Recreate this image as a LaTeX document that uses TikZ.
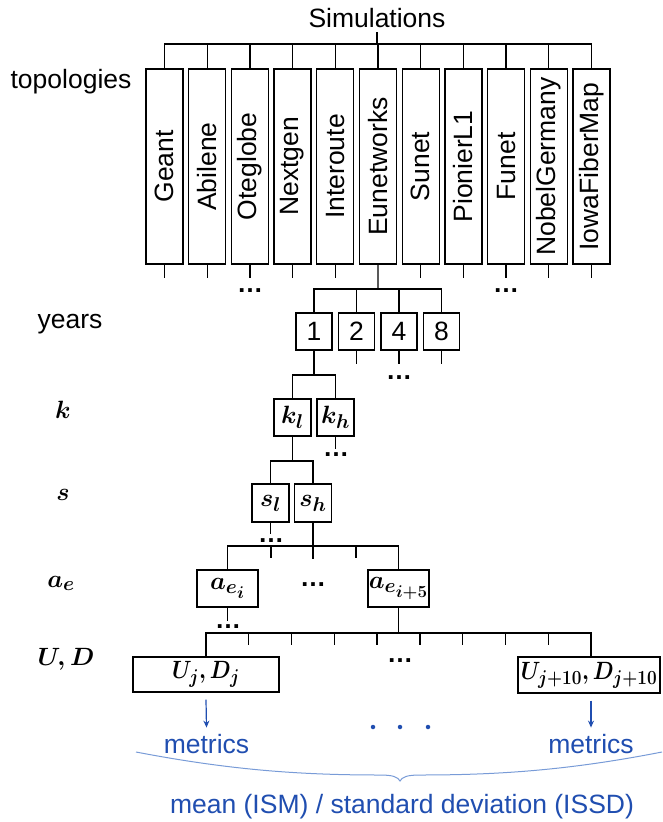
\RequirePackage{fix-cm}
\documentclass[tikz,border=0pt]{standalone}
\usepackage{fontspec}
\setmainfont{Liberation Sans}
\DeclareMathSizes{25}{25}{20}{17}
\usetikzlibrary{arrows.meta}
\definecolor{mblue}{RGB}{32,78,176}
\definecolor{bblue}{RGB}{120,155,215}
\begin{document}
\begin{tikzpicture}[x=1pt,y=-1pt,
  lbl/.style={font=\fontsize{26.5}{30}\selectfont, inner sep=0pt},
  mlbl/.style={font=\fontsize{25}{28}\selectfont\boldmath, inner sep=0pt},
  topo/.style={draw, line width=1.3pt, minimum width=37pt, minimum height=195pt, inner sep=0pt, font=\fontsize{26.5}{30}\selectfont},
  yrbox/.style={draw, line width=1.3pt, minimum width=36pt, minimum height=37pt, inner sep=0pt, font=\fontsize{26.5}{30}\selectfont},
  mbox/.style={draw, line width=1.3pt, minimum height=37pt, inner sep=0pt, font=\fontsize{25}{28}\selectfont\boldmath},
  conn/.style={line width=1.3pt},
  more/.style={inner sep=0pt, font=\fontsize{26}{30}\selectfont\bfseries},
  bdot/.style={circle, fill=mblue, inner sep=0pt, minimum size=4.5pt},
  blab/.style={font=\fontsize{26.5}{30}\selectfont, text=mblue, inner xsep=0pt, inner ysep=6pt},
  arr/.style={draw=mblue, line width=1.2pt, -{Stealth[length=7pt,width=6pt]}}
]
\useasboundingbox (0,0) rectangle (662,822);

% top
\node[lbl, anchor=base] (sim) at (377,27) {Simulations};
\node[lbl, anchor=base] (topl) at (71,88) {topologies};
\foreach \n [count=\i] in {Geant,Abilene,Oteglobe,Nextgen,Interoute,Eunetworks,Sunet,PionierL1,Funet,NobelGermany,IowaFiberMap}
  \node[topo] (t\i) at ({164.5+42.7*(\i-1)},166.5) {\rotatebox{90}{\n}};
\coordinate (tbus) at (377,44);
\draw[conn] ([yshift=-5pt]sim.base) -- (tbus);
\draw[conn] (t1.north) |- (tbus) -| (t11.north);
\foreach \i in {2,...,10} \draw[conn] (t\i.north) -- (t\i.north |- tbus);
\foreach \i in {1,2,3,4,5,7,8,9,10,11} \draw[conn] (t\i.south) -- ++(0,13);
\node[more, anchor=base] (dt3) at (250,292) {…};
\node[more, anchor=base] (dt9) at (506,292) {…};

% years
\node[lbl, anchor=base] (yrl) at (70,328) {years};
\foreach \v [count=\i] in {1,2,4,8}
  \node[yrbox] (y\i) at ({314+42.5*(\i-1)},331.5) {\v};
\coordinate (ybus) at (378,289);
\draw[conn] (t6.south) -- (ybus);
\draw[conn] (y1.north) |- (ybus) -| (y4.north);
\foreach \i in {2,3} \draw[conn] (y\i.north) -- (y\i.north |- ybus);
\foreach \i in {2,3,4} \draw[conn] (y\i.south) -- ++(0,13);
\node[more, anchor=base] (dy3) at (399,379) {…};

% k
\node[mlbl, anchor=base] (kl) at (63,418) {$k$};
\node[mbox, minimum width=37pt] (k1) at (292.5,417.5) {$k_l$};
\node[mbox, minimum width=37pt] (k2) at (335.5,417.5) {$k_h$};
\coordinate (kbus) at (314,375);
\draw[conn] (y1.south) -- (kbus);
\draw[conn] (k1.north) |- (kbus) -| (k2.north);
\draw[conn] (k2.south) -- ++(0,12);
\node[more, anchor=base] (dk2) at (336,456) {…};

% s
\node[mlbl, anchor=base] (sl) at (63,500) {$s$};
\node[mbox, minimum width=37pt, minimum height=38pt] (s1) at (270.5,503) {$s_l$};
\node[mbox, minimum width=37pt, minimum height=38pt] (s2) at (313,503) {$s_h$};
\coordinate (sbus) at (292.5,461);
\draw[conn] (k1.south) -- (sbus);
\draw[conn] (s1.north) |- (sbus) -| (s2.north);
\draw[conn] (s1.south) -- ++(0,11);
\node[more, anchor=base] (ds1) at (271,542) {…};

% a_e
\node[mlbl, anchor=base] (al) at (61,587) {$a_e$};
\node[mbox, minimum width=61pt] (a1) at (227.5,588.5) {$a_{e_i}$};
\node[mbox, minimum width=61pt] (a2) at (398.5,588.5) {$a_{e_{i+5}}$};
\coordinate (abus) at (313,546);
\coordinate (at1) at (271,546);
\coordinate (at2) at (356,546);
\draw[conn] (s2.south) -- ++(0,36);
\draw[conn] (a1.north) |- (abus) -| (a2.north);
\draw[conn] (at1) -- ++(0,12);
\draw[conn] (at2) -- ++(0,12);
\node[more, anchor=base] (da) at (313,586) {…};
\draw[conn] (a1.south) -- ++(0,13);
\node[more, anchor=base] (da1) at (228,628) {…};

% U, D
\node[mlbl, anchor=base] (ul) at (66,665) {$U, D$};
\node[mbox, minimum width=146pt, minimum height=35pt] (u1) at (206,674.5) {\scalebox{0.86}[1]{$U_j, D_j$}};
\node[mbox, minimum width=142pt, minimum height=36pt] (u2) at (589,675) {\scalebox{0.86}[1]{$U_{j+10}, D_{j+10}$}};
\coordinate (ubus) at (398.5,633);
\coordinate (uend) at (591,633);
\draw[conn] (a2.south) -- (ubus);
\draw[conn] (u1.north) |- (uend) -- (uend |- u2.north);
\foreach \k in {1,...,8} {
  \coordinate (ut\k) at ({206+42.78*\k},633);
  \draw[conn] (ut\k) -- ++(0,12);
}
\node[more, anchor=base] (du) at (400,662) {…};

% metrics
\node[blab, anchor=base] (m1) at (206.5,753) {metrics};
\node[blab, anchor=base] (m2) at (591,753) {metrics};
\draw[arr] ([yshift=-7pt]u1.south) -- (m1.north);
\draw[arr] ([yshift=-7pt]u2.south -| m2.north) -- (m2.north);
\node[bdot] (bd1) at (373,727) {};
\node[bdot] (bd2) at (400,727) {};
\node[bdot] (bd3) at (428,727) {};

% brace
\draw[bblue, line width=1pt] (136,752) .. controls (230,770) and (300,775) .. (380,775)
  .. controls (393,775) and (398,777) .. (400,781)
  .. controls (402,777) and (407,775) .. (420,775)
  .. controls (500,775) and (570,770) .. (662,752);
\node[blab, anchor=base, inner ysep=0pt] (res) at (402,813) {mean (ISM) / standard deviation (ISSD)};
\end{tikzpicture}
\end{document}
